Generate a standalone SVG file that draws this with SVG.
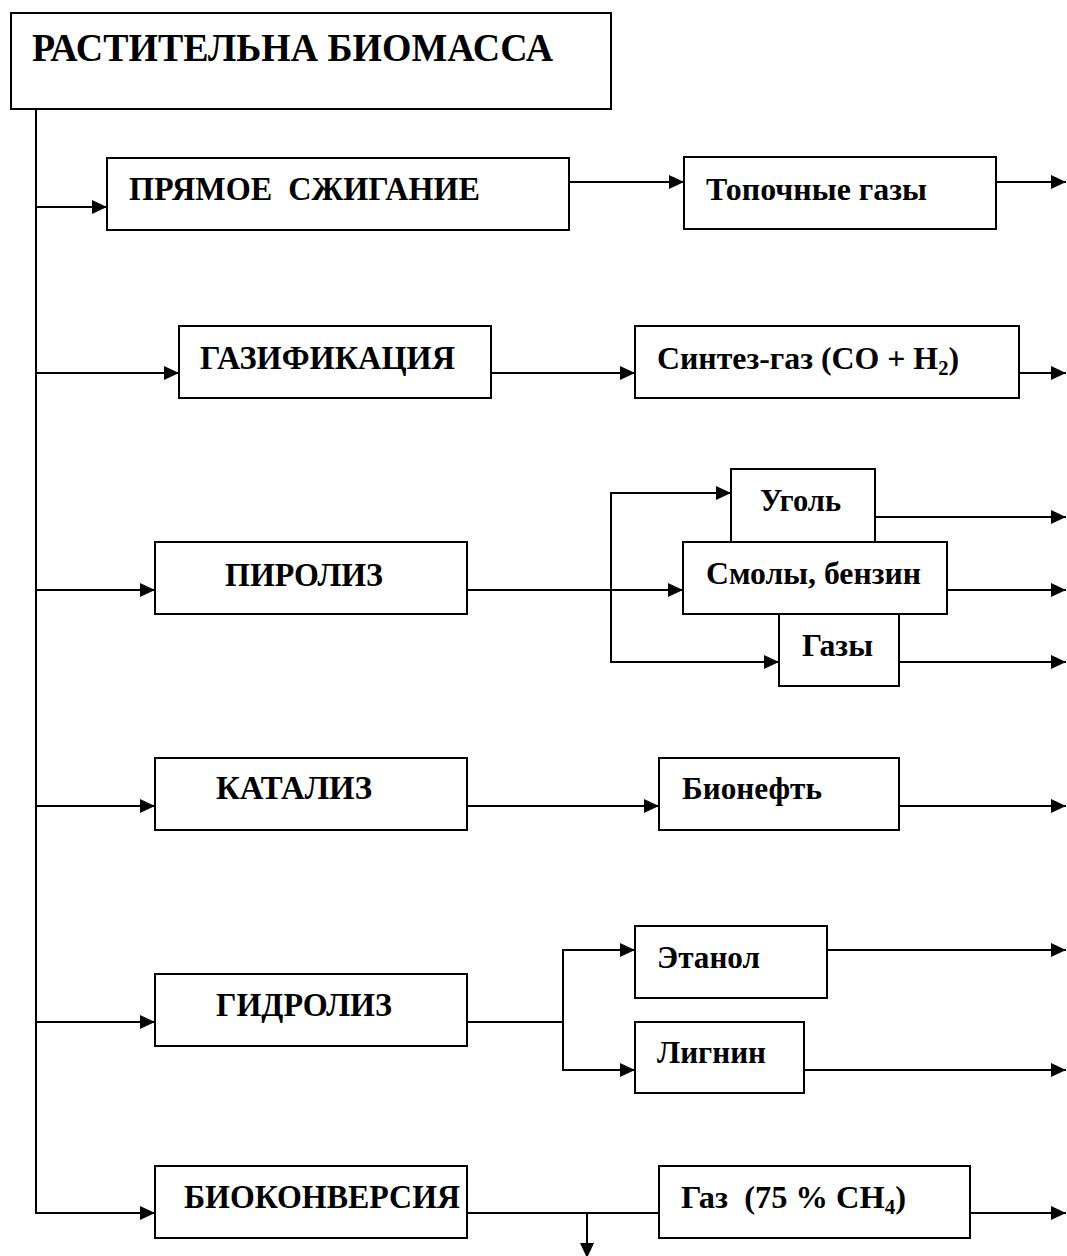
<svg xmlns="http://www.w3.org/2000/svg" width="1067" height="1256" viewBox="0 0 1067 1256">
<style>
.box{fill:#fff;stroke:#000;stroke-width:2}
.c{fill:none;stroke:#000;stroke-width:2;marker-end:url(#ah)}
.cn{fill:none;stroke:#000;stroke-width:2}
text{font-family:"Liberation Serif","Times New Roman",serif;font-weight:bold;fill:#000}
.t{font-size:33px}
.p{font-size:31px}
</style>
<defs>
<marker id="ah" markerUnits="userSpaceOnUse" markerWidth="15" markerHeight="14" refX="15" refY="7" orient="auto">
<path d="M0,0 L15,7 L0,14 z" fill="#000"/>
</marker>
</defs>
<rect width="1067" height="1256" fill="#fff"/>
<g id="connectors">
<path class="c" d="M36,109 V1213 H155"/>
<path class="c" d="M36,207 H107"/>
<path class="c" d="M36,373 H179"/>
<path class="c" d="M36,590 H155"/>
<path class="c" d="M36,806 H155"/>
<path class="c" d="M36,1022 H155"/>
<path class="c" d="M569,182 H684"/>
<path class="c" d="M996,182 H1066"/>
<path class="c" d="M491,373 H635"/>
<path class="c" d="M995,373 H1066"/>
<path class="c" d="M467,590 H683"/>
<path class="c" d="M611,590 V493 H731"/>
<path class="c" d="M611,590 V662 H779"/>
<path class="c" d="M875,517 H1066"/>
<path class="c" d="M947,590 H1066"/>
<path class="c" d="M899,662 H1066"/>
<path class="c" d="M467,806 H659"/>
<path class="c" d="M899,806 H1066"/>
<path class="cn" d="M467,1022 H563"/>
<path class="c" d="M563,1022 V950 H635"/>
<path class="c" d="M563,1022 V1070 H635"/>
<path class="c" d="M827,950 H1066"/>
<path class="c" d="M804,1070 H1066"/>
<path class="cn" d="M467,1213 H659"/>
<path class="c" d="M587,1213 V1258"/>
<path class="c" d="M970,1213 H1066"/>
</g>
<g id="biomass">
<rect class="box" x="11" y="13" width="600" height="96"/>
<text x="32" y="61" font-size="41" textLength="521" lengthAdjust="spacingAndGlyphs">РАСТИТЕЛЬНА БИОМАССА</text>
</g>
<g id="combustion">
<rect class="box" x="107" y="158" width="462" height="72"/>
<text class="t" x="129" y="200" textLength="351" lengthAdjust="spacingAndGlyphs" xml:space="preserve">ПРЯМОЕ  СЖИГАНИЕ</text>
</g>
<g id="flue-gas">
<rect class="box" x="684" y="157" width="312" height="72"/>
<text class="p" x="706" y="200" textLength="221" lengthAdjust="spacingAndGlyphs">Топочные газы</text>
</g>
<g id="gasification">
<rect class="box" x="179" y="326" width="312" height="72"/>
<text class="t" x="200" y="369" textLength="255" lengthAdjust="spacingAndGlyphs">ГАЗИФИКАЦИЯ</text>
</g>
<g id="syngas">
<rect class="box" x="635" y="326" width="384" height="72"/>
<text class="p" x="657" y="369" textLength="302" lengthAdjust="spacingAndGlyphs">Синтез-газ (СО + Н<tspan font-size="20" dy="6">2</tspan><tspan dy="-6">)</tspan></text>
</g>
<g id="pyrolysis">
<rect class="box" x="155" y="542" width="312" height="72"/>
<text class="t" x="225" y="586" textLength="158" lengthAdjust="spacingAndGlyphs">ПИРОЛИЗ</text>
</g>
<g id="coal">
<rect class="box" x="731" y="469" width="144" height="73"/>
<text class="p" x="760" y="511" textLength="81" lengthAdjust="spacingAndGlyphs">Уголь</text>
</g>
<g id="tars">
<rect class="box" x="683" y="542" width="264" height="72"/>
<text class="p" x="706" y="584" textLength="215" lengthAdjust="spacingAndGlyphs">Смолы, бензин</text>
</g>
<g id="gases">
<rect class="box" x="779" y="614" width="120" height="72"/>
<text class="p" x="802" y="656" textLength="71" lengthAdjust="spacingAndGlyphs">Газы</text>
</g>
<g id="catalysis">
<rect class="box" x="155" y="758" width="312" height="72"/>
<text class="t" x="216" y="799" textLength="156" lengthAdjust="spacingAndGlyphs">КАТАЛИЗ</text>
</g>
<g id="bio-oil">
<rect class="box" x="659" y="758" width="240" height="72"/>
<text class="p" x="682" y="799" textLength="140" lengthAdjust="spacingAndGlyphs">Бионефть</text>
</g>
<g id="hydrolysis">
<rect class="box" x="155" y="974" width="312" height="72"/>
<text class="t" x="216" y="1016" textLength="176" lengthAdjust="spacingAndGlyphs">ГИДРОЛИЗ</text>
</g>
<g id="ethanol">
<rect class="box" x="635" y="926" width="192" height="72"/>
<text class="p" x="657" y="968" textLength="103" lengthAdjust="spacingAndGlyphs">Этанол</text>
</g>
<g id="lignin">
<rect class="box" x="635" y="1022" width="169" height="71"/>
<text class="p" x="657" y="1063" textLength="109" lengthAdjust="spacingAndGlyphs">Лигнин</text>
</g>
<g id="bioconversion">
<rect class="box" x="155" y="1166" width="312" height="72"/>
<text class="t" x="184" y="1208" textLength="276" lengthAdjust="spacingAndGlyphs">БИОКОНВЕРСИЯ</text>
</g>
<g id="biogas">
<rect class="box" x="659" y="1166" width="311" height="72"/>
<text class="p" x="681" y="1208" textLength="225" lengthAdjust="spacingAndGlyphs" xml:space="preserve">Газ  (75 % СН<tspan font-size="20" dy="6">4</tspan><tspan dy="-6">)</tspan></text>
</g>
</svg>
